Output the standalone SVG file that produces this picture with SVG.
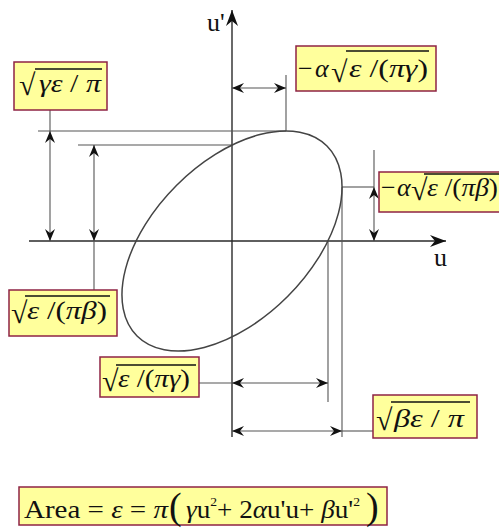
<svg xmlns="http://www.w3.org/2000/svg" width="499" height="529" viewBox="0 0 499 529">
<style>
.ax{stroke:#2a2a2a;stroke-width:1.4;fill:none}
.ln{stroke:#555;stroke-width:1.1;fill:none}
.el{stroke:#444;stroke-width:1.5;fill:none}
.box{fill:#ffff9c;stroke:#8e2344;stroke-width:1.5}
.ov{stroke:#111;stroke-width:1.3}
.t{font-family:"Liberation Serif","Times New Roman",serif;font-size:26px;fill:#111}
.i{font-style:italic}
.rt{font-family:"Liberation Serif","DejaVu Serif",serif;font-size:30px;fill:#111}
.par{font-size:38px}
</style>
<defs>
<marker id="ar" viewBox="0 0 12 10" refX="12" refY="5" markerWidth="12" markerHeight="10" markerUnits="userSpaceOnUse" orient="auto-start-reverse">
<path d="M0,0 L12,5 L0,10 L4,5 z" fill="#111"/>
</marker>
<marker id="big" viewBox="0 0 16 12" refX="16" refY="6" markerWidth="16" markerHeight="12" markerUnits="userSpaceOnUse" orient="auto">
<path d="M0,0 L16,6 L0,12 L5,6 z" fill="#111"/>
</marker>
</defs>

<g id="connectors">
<line class="ax" x1="232" y1="437" x2="232" y2="10" marker-end="url(#big)"/>
<line class="ax" x1="29" y1="241" x2="446" y2="241" marker-end="url(#big)"/>
<line class="ln" x1="38" y1="131" x2="286" y2="131"/>
<line class="ln" x1="78" y1="145" x2="232" y2="145"/>
<line class="ln" x1="286" y1="75" x2="286" y2="131"/>
<line class="ln" x1="232" y1="88" x2="286" y2="88" marker-start="url(#ar)" marker-end="url(#ar)"/>
<line class="ln" x1="342" y1="187" x2="374" y2="187"/>
<line class="ln" x1="374" y1="150" x2="374" y2="187"/>
<line class="ln" x1="374" y1="187" x2="374" y2="241" marker-start="url(#ar)" marker-end="url(#ar)"/>
<line class="ln" x1="342" y1="187" x2="342" y2="437"/>
<line class="ln" x1="328" y1="241" x2="328" y2="402"/>
<line class="ln" x1="50" y1="110" x2="50" y2="131"/>
<line class="ln" x1="50" y1="131" x2="50" y2="241" marker-start="url(#ar)" marker-end="url(#ar)"/>
<line class="ln" x1="94" y1="145" x2="94" y2="241" marker-start="url(#ar)" marker-end="url(#ar)"/>
<line class="ln" x1="94" y1="241" x2="94" y2="290"/>
<line class="ln" x1="199" y1="383" x2="232" y2="383"/>
<line class="ln" x1="232" y1="383" x2="328" y2="383" marker-start="url(#ar)" marker-end="url(#ar)"/>
<line class="ln" x1="232" y1="431" x2="342" y2="431" marker-start="url(#ar)" marker-end="url(#ar)"/>
<line class="ln" x1="342" y1="431" x2="373" y2="431"/>
</g>

<g id="ellipse">
<ellipse class="el" cx="232" cy="241" rx="134.3" ry="78.6" transform="rotate(-45 232 241)"/>
</g>

<g id="axis-labels">
<text class="t" x="207" y="31">u'</text>
<text class="t" x="434" y="266">u</text>
</g>

<g id="label-gamma-eps-pi">
<rect class="box" x="14" y="62" width="93" height="48"/>
<text class="rt" x="19" y="95">√</text>
<line class="ov" x1="35" y1="69" x2="102" y2="69"/>
<text class="t" x="39" y="92" textLength="62" lengthAdjust="spacingAndGlyphs"><tspan class="i">γε</tspan> / <tspan class="i">π</tspan></text>
</g>

<g id="label-alpha-gamma">
<rect class="box" x="296" y="46" width="140" height="45"/>
<text class="t" x="298" y="77">−</text>
<text class="t i" x="315" y="77">α</text>
<text class="rt" x="331" y="82">√</text>
<line class="ov" x1="346" y1="51" x2="429" y2="51"/>
<text class="t" x="349" y="77" textLength="79" lengthAdjust="spacingAndGlyphs"><tspan class="i">ε</tspan> /(<tspan class="i">πγ</tspan>)</text>
</g>

<g id="label-alpha-beta">
<rect class="box" x="379" y="172" width="125" height="40"/>
<text class="t" x="381" y="196">−</text>
<text class="t i" x="397" y="196">α</text>
<text class="rt" x="411" y="200">√</text>
<line class="ov" x1="424" y1="174" x2="499" y2="174"/>
<text class="t" x="427" y="196" textLength="71" lengthAdjust="spacingAndGlyphs"><tspan class="i">ε</tspan> /(<tspan class="i">πβ</tspan>)</text>
</g>

<g id="label-eps-pi-beta">
<rect class="box" x="9" y="290" width="108" height="46"/>
<text class="rt" x="11" y="323">√</text>
<line class="ov" x1="25" y1="296" x2="110" y2="296"/>
<text class="t" x="27" y="319" textLength="80" lengthAdjust="spacingAndGlyphs"><tspan class="i">ε</tspan> /(<tspan class="i">πβ</tspan>)</text>
</g>

<g id="label-eps-pi-gamma">
<rect class="box" x="100" y="357" width="99" height="40"/>
<text class="rt" x="102" y="391">√</text>
<line class="ov" x1="116" y1="365" x2="196" y2="365"/>
<text class="t" x="118" y="387" textLength="72" lengthAdjust="spacingAndGlyphs"><tspan class="i">ε</tspan> /(<tspan class="i">πγ</tspan>)</text>
</g>

<g id="label-beta-eps-pi">
<rect class="box" x="373" y="395" width="104" height="43"/>
<text class="rt" x="376" y="430">√</text>
<line class="ov" x1="391" y1="402" x2="470" y2="402"/>
<text class="t" x="394" y="427" textLength="70" lengthAdjust="spacingAndGlyphs"><tspan class="i">βε</tspan> / <tspan class="i">π</tspan></text>
</g>

<g id="label-area">
<rect class="box" x="19" y="487" width="368" height="38"/>
<text class="t" x="24" y="518" textLength="144" lengthAdjust="spacingAndGlyphs">Area = <tspan class="i">ε</tspan> = <tspan class="i">π</tspan></text>
<text class="t par" x="169" y="519">(</text>
<text class="t" x="186" y="518" textLength="174" lengthAdjust="spacingAndGlyphs"><tspan class="i">γ</tspan>u<tspan font-size="13" dy="-12">2</tspan><tspan dy="12">+ 2</tspan><tspan class="i">α</tspan>u'u+ <tspan class="i">β</tspan>u'<tspan font-size="13" dy="-12">2</tspan></text>
<text class="t par" x="366" y="519">)</text>
</g>
</svg>
